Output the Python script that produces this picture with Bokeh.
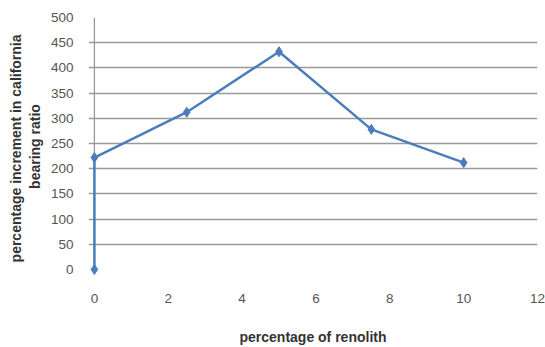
from bokeh.plotting import figure
from bokeh.models import Range1d, FixedTicker
from bokeh.embed import file_html
from bokeh.resources import INLINE

# Renolith content (%) vs. increment in CBR (%)
renolith_pct = [0, 0, 2.5, 5, 7.5, 10]
cbr_increment = [0, 222, 312, 432, 278, 212]

x_ticks = [0, 2, 4, 6, 8, 10, 12]
y_ticks = [0, 50, 100, 150, 200, 250, 300, 350, 400, 450, 500]

FONT = "Liberation Sans"
BLUE = "#4a7ebb"
GRID = "#9a9a9a"

# a small pad below 0 and left of 0 keeps the end markers unclipped
p = figure(width=545, height=347, output_backend="svg", toolbar_location=None,
           x_range=Range1d(-0.16, 12), y_range=Range1d(-12, 500),
           min_border_left=88, min_border_right=8, min_border_top=17,
           min_border_bottom=68)
p.outline_line_color = None
p.background_fill_color = "white"
p.border_fill_color = "white"

# vertical value axis line at x = 0
p.segment(x0=[0], y0=[0], x1=[0], y1=[500], line_color=GRID, line_width=1.3)

p.line(renolith_pct, cbr_increment, line_color=BLUE, line_width=2.5)
p.scatter(renolith_pct, cbr_increment, marker="diamond", size=10,
          fill_color=BLUE, line_color=BLUE)

p.xgrid.grid_line_color = None
p.ygrid.grid_line_color = GRID
p.ygrid.grid_line_width = 1.3
p.ygrid.ticker = FixedTicker(ticks=y_ticks[1:])

xa = p.xaxis[0]
xa.ticker = FixedTicker(ticks=x_ticks)
xa.axis_line_color = None
xa.major_tick_line_color = None
xa.minor_tick_line_color = None
xa.major_label_standoff = 12
xa.major_label_text_font = FONT
xa.major_label_text_font_size = "13.5px"
xa.major_label_text_color = "#555555"
xa.axis_label = "percentage of renolith"
xa.axis_label_text_font = FONT
xa.axis_label_text_font_size = "14px"
xa.axis_label_text_font_style = "bold"
xa.axis_label_text_color = "#333333"
xa.axis_label_standoff = 23

ya = p.yaxis[0]
ya.ticker = FixedTicker(ticks=y_ticks)
ya.axis_line_color = None
ya.major_tick_line_color = None
ya.minor_tick_line_color = None
ya.major_label_standoff = 9
ya.major_label_text_font = FONT
ya.major_label_text_font_size = "13.5px"
ya.major_label_text_color = "#555555"
ya.axis_label = "percentage  increment in california\nbearing ratio"
ya.axis_label_text_font = FONT
ya.axis_label_text_font_size = "14px"
ya.axis_label_text_font_style = "bold"
ya.axis_label_text_color = "#333333"
ya.axis_label_standoff = 5

open("out.html", "w").write(file_html(p, INLINE))
